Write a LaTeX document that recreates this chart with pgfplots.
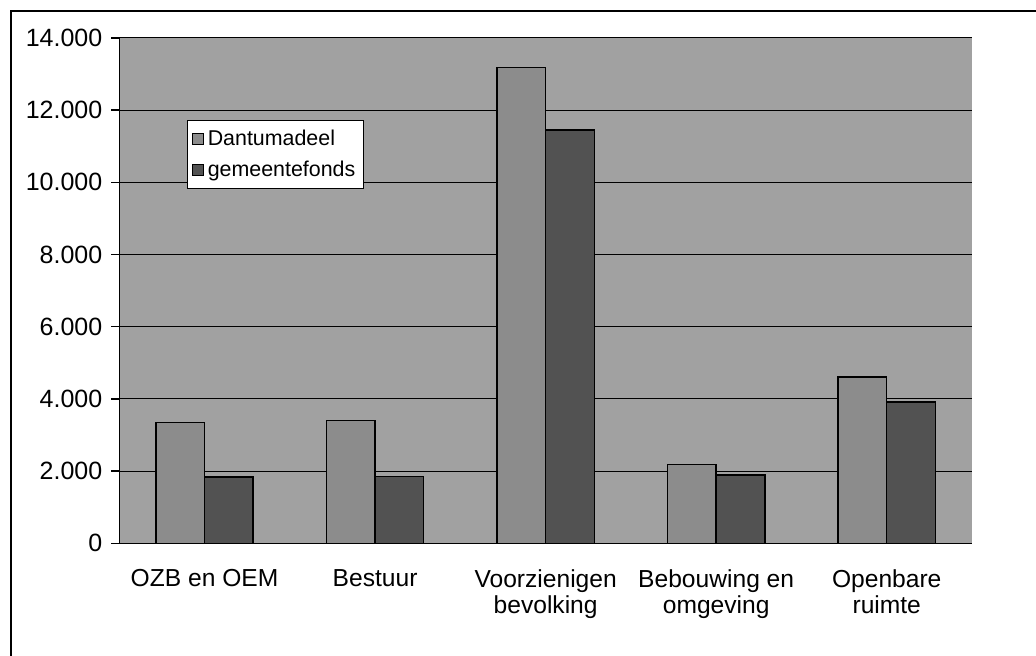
\documentclass[border=0pt]{standalone}
\usepackage{fontspec}
\setmainfont{Liberation Sans}
\usepackage{pgfplots}
\pgfplotsset{compat=1.18}
\begin{document}
\begin{tikzpicture}
\useasboundingbox (-59.65pt,-56.35pt) rectangle (458.35pt,271.65pt);
\draw[line width=0.8pt] (-54.15pt,-70pt) -- (-54.15pt,266.15pt) -- (470pt,266.15pt);
\begin{axis}[
  at={(0pt,0pt)}, anchor=south west,
  scale only axis, width=426.35pt, height=252.65pt,
  xmin=0.5, xmax=5.5, ymin=0, ymax=14000,
  axis x line*=bottom, axis y line*=left,
  axis line style={line width=0.7pt, -},
  axis background/.style={fill=black!37},
  ymajorgrids, grid style={black, line width=0.5pt},
  ytick={0,2000,...,14000},
  scaled y ticks=false,
  /pgf/number format/1000 sep={.},
  /pgf/number format/assume math mode=true,
  tick align=outside, major tick length=4pt,
  ytick style={black, line width=0.7pt},
  xtick={1,2,3,4,5},
  xticklabels={OZB en OEM, Bestuur, {Voorzienigen\\bevolking}, {Bebouwing en\\omgeving}, {Openbare\\ruimte}},
  xtick style={draw=none},
  minor xtick={0.5,1.5,...,5.5},
  minor tick length=4pt,
  minor x tick style={black, line width=0.7pt},
  yticklabel style={font=\fontsize{12.5}{14}\selectfont, xshift=-1pt},
  xticklabel style={font=\fontsize{12.3}{13.4}\selectfont, align=center, yshift=-5.5pt},
  legend style={at={(0.0797,0.8377)}, anchor=north west, draw=black, line width=0.5pt, fill=white,
    font=\fontsize{10.7}{12}\selectfont, row sep=2.5pt, inner xsep=2pt, inner ysep=2.5pt},
  legend cell align=left,
]
\addplot[ybar, bar width=0.285, bar shift=-0.1425, fill=black!45, draw=black, line width=0.7pt,
  legend image code/.code={\draw[fill=black!45, draw=black, line width=0.5pt] (0pt,-2.75pt) rectangle (5.5pt,2.75pt);}]
  coordinates {(1,3340) (2,3400) (3,13180) (4,2190) (5,4610)};
\addplot[ybar, bar width=0.285, bar shift=0.1425, fill=black!68, draw=black, line width=0.7pt,
  legend image code/.code={\draw[fill=black!68, draw=black, line width=0.5pt] (0pt,-2.75pt) rectangle (5.5pt,2.75pt);}]
  coordinates {(1,1840) (2,1850) (3,11450) (4,1890) (5,3920)};
\legend{Dantumadeel, gemeentefonds}
\end{axis}
\end{tikzpicture}
\end{document}
